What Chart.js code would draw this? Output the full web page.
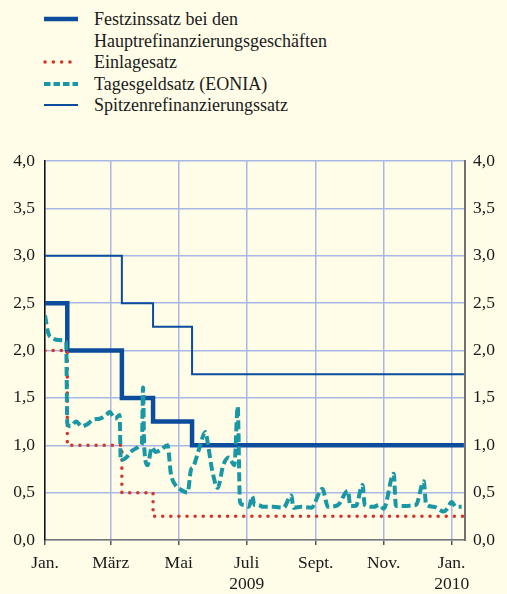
<!DOCTYPE html>
<html><head><meta charset="utf-8">
<script src="https://cdn.jsdelivr.net/npm/chart.js@4.4.1/dist/chart.umd.min.js"></script>
<style>
html,body{margin:0;padding:0;background:#fffde8;}
#wrap{position:relative;width:507px;height:594px;overflow:hidden;font-family:"Liberation Serif","DejaVu Serif",serif;color:#1a1a1a;background:#fffde8;}
.row{position:absolute;left:94px;font-size:18px;line-height:20px;white-space:nowrap;}
svg.key{position:absolute;left:43px;width:36px;height:8px;}
canvas{position:absolute;left:0;top:0;}
</style></head>
<body><div id="wrap">
<svg class="key" style="top:15px"><line x1="1" y1="4" x2="35" y2="4" stroke="#0b4c9d" stroke-width="4.5"/></svg>
<div class="row" style="top:9px">Festzinssatz bei den</div>
<div class="row" style="top:31px">Hauptrefinanzierungsgeschäften</div>
<svg class="key" style="top:58px"><line x1="2" y1="4" x2="35" y2="4" stroke="#d0382b" stroke-width="3.5" stroke-linecap="round" stroke-dasharray="0.1 8.2"/></svg>
<div class="row" style="top:52px">Einlagesatz</div>
<svg class="key" style="top:79.5px"><line x1="1" y1="4" x2="35" y2="4" stroke="#1a97a4" stroke-width="4" stroke-dasharray="6.5 3"/></svg>
<div class="row" style="top:73.5px">Tagesgeldsatz (EONIA)</div>
<svg class="key" style="top:101px"><line x1="1" y1="4" x2="35" y2="4" stroke="#0b4c9d" stroke-width="2"/></svg>
<div class="row" style="top:95px">Spitzenrefinanzierungssatz</div>
<canvas id="c" width="507" height="594"></canvas>
</div>
<script>
// ---- data ----
const policyDates = ["2009-01-01","2009-01-21","2009-03-11","2009-04-08","2009-05-13","2010-01-12"];
const mainRefiRate = [2.5, 2.0, 1.5, 1.25, 1.0, 1.0];
const depositRate = [2.0, 1.0, 0.5, 0.25, 0.25, 0.25];
const marginalRate = [3.0, 3.0, 2.5, 2.25, 1.75, 1.75];

const eoniaDates = ["2009-01-01","2009-01-04","2009-01-08","2009-01-13","2009-01-20","2009-01-21","2009-01-24","2009-01-29","2009-02-03","2009-02-09","2009-02-13","2009-02-19","2009-02-25","2009-02-28","2009-03-05","2009-03-09","2009-03-10","2009-03-15","2009-03-19","2009-03-24","2009-03-28","2009-03-29","2009-03-30","2009-03-31","2009-04-03","2009-04-07","2009-04-10","2009-04-15","2009-04-21","2009-04-24","2009-04-28","2009-05-03","2009-05-09","2009-05-12","2009-05-14","2009-05-19","2009-05-25","2009-05-27","2009-05-31","2009-06-05","2009-06-10","2009-06-15","2009-06-20","2009-06-23","2009-06-25","2009-06-28","2009-07-03","2009-07-06","2009-07-08","2009-07-11","2009-07-16","2009-07-25","2009-08-03","2009-08-10","2009-08-12","2009-08-19","2009-08-28","2009-09-07","2009-09-12","2009-09-21","2009-09-30","2009-10-02","2009-10-07","2009-10-13","2009-10-15","2009-10-23","2009-10-28","2009-11-01","2009-11-10","2009-11-12","2009-11-21","2009-11-30","2009-12-07","2009-12-09","2009-12-16","2009-12-25","2009-12-28","2010-01-01","2010-01-05","2010-01-10"];
const eoniaRate = [2.37,2.18,2.13,2.11,2.10,1.23,1.20,1.25,1.20,1.23,1.27,1.28,1.32,1.35,1.28,1.32,0.84,0.87,0.93,0.97,1.00,1.02,1.61,1.00,0.79,0.98,0.93,0.95,1.00,0.70,0.58,0.53,0.50,0.74,0.77,0.95,1.14,1.03,0.74,0.55,0.79,0.87,0.79,1.41,0.40,0.37,0.35,0.46,0.37,0.37,0.35,0.35,0.34,0.47,0.34,0.35,0.34,0.54,0.35,0.37,0.52,0.36,0.36,0.58,0.37,0.35,0.37,0.33,0.70,0.36,0.36,0.37,0.62,0.38,0.35,0.30,0.33,0.40,0.35,0.35];

const tickDates = ["2009-01-01","2009-03-01","2009-05-01","2009-07-01","2009-09-01","2009-11-01","2010-01-01"];
const tickLabels = ["Jan.","März","Mai",["Juli","2009"],"Sept.","Nov.",["Jan.","2010"]];
const yTicks = [0,0.5,1,1.5,2,2.5,3,3.5,4];

// ---- helpers ----
const base = Date.UTC(2009,0,1);
function dayOf(s){const p=s.split("-").map(Number);return (Date.UTC(p[0],p[1]-1,p[2])-base)/86400000;}
function pts(dates, vals){return dates.map((d,i)=>({x:dayOf(d),y:vals[i]}));}
const tickDays = tickDates.map(dayOf);
const fmt = v => v.toFixed(1).replace(".", ",");

Chart.defaults.font.family = '"Liberation Serif","DejaVu Serif",serif';
Chart.defaults.font.size = 17.5;
Chart.defaults.color = '#1a1a1a';

const blue = '#0b4c9d', red = '#d0382b', teal = '#1a97a4', grid = '#a9b7e6';

new Chart(document.getElementById('c'), {
  type: 'line',
  data: {
    datasets: [
      {label:'Tagesgeldsatz (EONIA)', data: pts(eoniaDates, eoniaRate), borderColor: teal, borderWidth: 4, borderDash:[9,4], cubicInterpolationMode:'monotone', pointRadius:0, order:0, yAxisID:'y'},
      {label:'Einlagesatz', data: pts(policyDates, depositRate), borderColor: red, borderWidth: 3.5, borderDash:[0.1,8], borderCapStyle:'round', stepped:true, pointRadius:0, order:1, yAxisID:'y'},
      {label:'Festzinssatz', data: pts(policyDates, mainRefiRate), borderColor: blue, borderWidth: 4.5, stepped:true, pointRadius:0, order:2, yAxisID:'y'},
      {label:'Spitzenrefinanzierungssatz', data: pts(policyDates, marginalRate), borderColor: blue, borderWidth: 2, stepped:true, pointRadius:0, order:3, yAxisID:'y'}
    ]
  },
  options: {
    responsive:false, animation:false, devicePixelRatio:1,
    layout:{padding:{top:161,left:0,right:0,bottom:0}},
    plugins:{legend:{display:false}, tooltip:{enabled:false}},
    scales:{
      x:{type:'linear', min:0, max:377,
        afterBuildTicks: s => { s.ticks = tickDays.map(v=>({value:v})); },
        afterFit: s => { s.height = 54; },
        ticks:{callback:(v,i)=>tickLabels[i], padding:8, maxRotation:0, autoSkip:false, font:{lineHeight:1.2}},
        grid:{color:grid, lineWidth:1.5, tickColor:'#555', tickLength:5, tickWidth:1.5},
        border:{color:'#777', width:1.5}
      },
      y:{position:'left', min:0, max:4,
        afterBuildTicks: s => { s.ticks = yTicks.map(v=>({value:v})); },
        afterFit: s => { s.width = 45; },
        ticks:{callback:v=>fmt(v), padding:10},
        grid:{color:grid, lineWidth:1.5, drawTicks:false},
        border:{color:'#111', width:1.5}
      },
      y2:{position:'right', min:0, max:4,
        afterBuildTicks: s => { s.ticks = yTicks.map(v=>({value:v})); },
        afterFit: s => { s.width = 42; },
        ticks:{callback:v=>fmt(v), padding:8},
        grid:{display:false, drawTicks:false},
        border:{color:'#707070', width:2}
      }
    }
  }
});
</script>
</body></html>
